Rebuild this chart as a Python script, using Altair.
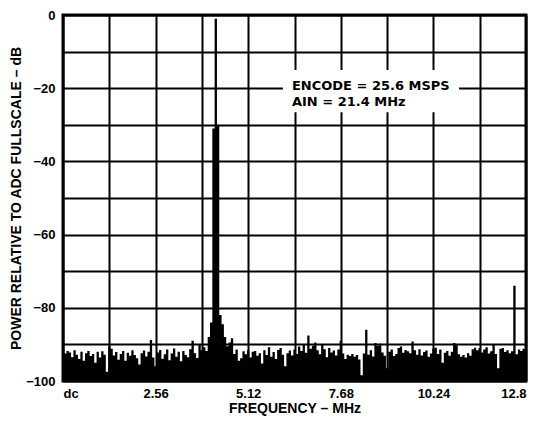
import altair as alt
import pandas as pd

# ---- data ----
BIN_MHZ = 0.064  # FFT display bin spacing (12.8 MHz / 200)
levels_db = [
    -91.5, -92.5, -91.8, -92.2, -93.5, -91.6, -92.8, -94.0, -92.0, -94.5,
    -92.4, -91.8, -93.2, -92.6, -95.0, -92.0, -93.6, -91.9, -92.8, -97.5,
    -90.5, -91.2, -93.0, -92.1, -94.2, -92.6, -91.8, -94.5, -92.3, -93.1,
    -91.6, -92.9, -93.8, -95.5, -92.4, -91.7, -93.3, -92.0, -88.8, -93.6,
    -96.0, -92.2, -91.5, -93.9, -92.7, -91.4, -94.3, -92.5, -91.1, -93.4,
    -92.0, -94.6, -91.8, -92.9, -93.5, -91.3, -89.0, -92.4, -93.7, -90.0,
    -91.6, -90.8, -91.8, -88.0, -84.0, -31.0, -1.0, -30.0, -82.0, -84.5,
    -88.0, -90.5, -89.5, -88.3, -92.6, -91.4, -94.5, -93.8, -91.9, -92.7,
    -91.7, -93.6, -92.0, -91.8, -93.1, -92.4, -95.2, -91.6, -92.9, -90.8,
    -93.4, -92.1, -94.0, -91.5, -91.0, -92.8, -96.0, -92.4, -91.7, -93.0,
    -91.4, -92.6, -90.6, -91.8, -89.9, -92.3, -87.6, -91.2, -90.4, -89.5,
    -91.6, -92.7, -90.0, -91.3, -93.5, -91.0, -92.2, -91.7, -93.0, -91.4,
    -89.0, -92.5, -94.0, -92.8, -93.2, -92.6, -93.4, -92.9, -94.1, -98.4,
    -92.5, -86.0, -92.8, -91.6, -93.3, -89.6, -90.4, -89.8, -92.2, -93.1,
    -96.5, -92.0, -91.4, -93.2, -92.6, -91.0, -90.6, -92.3, -91.5, -91.9,
    -92.4, -89.2, -91.6, -92.8, -91.3, -93.0, -92.1, -91.7, -93.4, -92.5,
    -91.2, -90.9, -92.6, -91.4, -95.0, -92.3, -91.8, -93.1, -92.0, -89.6,
    -90.2, -92.7, -93.4, -92.9, -93.6, -92.4, -93.1, -91.3, -90.9, -91.6,
    -91.0, -92.2, -91.4, -90.8, -92.5, -91.9, -90.1, -92.6, -96.5, -91.2,
    -91.0, -92.1, -91.6, -92.4, -91.9, -74.0, -92.7, -91.4, -91.8, -91.2,
    -92.0,
]
freqs_mhz = [round(i * BIN_MHZ, 4) for i in range(len(levels_db))]

x_grid = [0, 1.28, 2.56, 3.84, 5.12, 6.4, 7.68, 8.96, 10.24, 11.52, 12.8]
y_grid = [-100, -90, -80, -70, -60, -50, -40, -30, -20, -10, 0]

note_lines = ["ENCODE = 25.6 MSPS", "AIN = 21.4 MHz"]
note_x = [6.33, 6.33]
note_y = [-19.4, -23.8]
note_box = {"x": [6.08], "x2": [10.95], "y": [-15.0], "y2": [-26.6]}

AXIS_FONT = "Liberation Sans"
NOTE_FONT = "DejaVu Sans"

spec = pd.DataFrame({"freq": freqs_mhz, "db": levels_db})
notes = pd.DataFrame({"txt": note_lines, "freq": note_x, "db": note_y})
box = pd.DataFrame({"freq": note_box["x"], "freq2": note_box["x2"],
                    "db": note_box["y"], "db2": note_box["y2"]})

xscale = alt.Scale(domain=[0, 12.8], nice=False, zero=False)
yscale = alt.Scale(domain=[-100, 0], nice=False, zero=False)

xaxis = alt.Axis(
    values=x_grid, grid=True, ticks=False, domain=False,
    title="FREQUENCY – MHz", format=".4~f",
    labelExpr="round(datum.value/1.28) % 2 == 1 ? '' : (datum.value == 0 ? 'dc' : datum.label)",
    labelPadding=6, titlePadding=1,
)
yaxis = alt.Axis(
    values=y_grid, grid=True, ticks=False, domain=False,
    title="POWER RELATIVE TO ADC FULLSCALE – dB",
    labelExpr="datum.value % 20 != 0 ? '' : datum.label",
    labelPadding=8, titlePadding=2,
)

area = alt.Chart(spec).mark_area(
    interpolate="step", color="black", clip=True
).encode(
    x=alt.X("freq:Q", scale=xscale, axis=xaxis),
    y=alt.Y("db:Q", scale=yscale, axis=yaxis),
    y2=alt.datum(-100),
)

rect = alt.Chart(box).mark_rect(color="white").encode(
    x=alt.X("freq:Q", scale=xscale, axis=xaxis),
    x2="freq2:Q",
    y=alt.Y("db:Q", scale=yscale, axis=yaxis),
    y2="db2:Q",
)

text = alt.Chart(notes).mark_text(
    align="left", baseline="middle", font=NOTE_FONT, fontWeight="bold",
    fontSize=13, color="black",
).encode(
    x=alt.X("freq:Q", scale=xscale, axis=xaxis),
    y=alt.Y("db:Q", scale=yscale, axis=yaxis),
    text="txt:N",
)

chart = alt.layer(area, rect, text).properties(
    width=463, height=366,
    background="white",
    autosize=alt.AutoSizeParams(type="none"),
    padding={"left": 55, "top": 7, "right": 12, "bottom": 37},
).configure_view(
    stroke="black", strokeWidth=3,
).configure_axis(
    gridColor="black", gridWidth=2, gridOpacity=1,
    labelFont=AXIS_FONT, labelFontWeight="bold", labelFontSize=13, labelColor="black",
    titleFont=AXIS_FONT, titleFontWeight="bold", titleFontSize=14, titleColor="black",
)

chart.save("out.html", embed_options={"renderer": "svg", "actions": False})
